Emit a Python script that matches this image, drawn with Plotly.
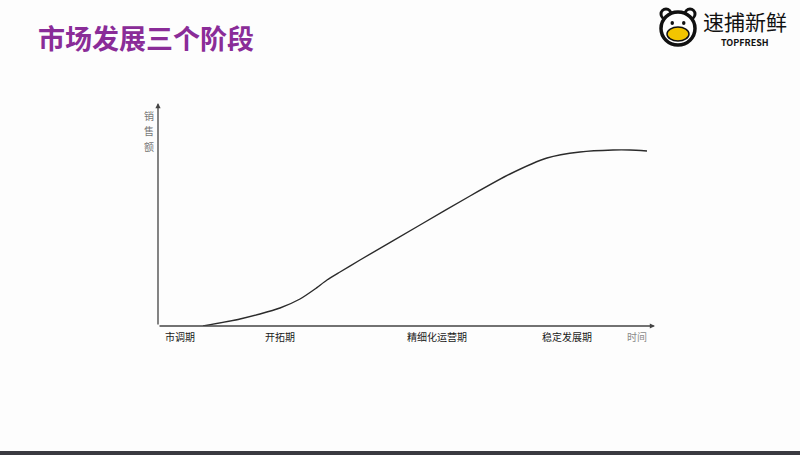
import plotly.graph_objects as go

# Curve (time vs sales), arbitrary units
time_vals = [45, 82, 102, 122, 142, 157, 169, 182, 202, 262, 312, 352, 389, 422, 455, 472, 489]
sales_vals = [0, 7, 12, 18, 27, 37, 46, 54, 66, 101, 130, 152, 168, 174, 176, 176, 175]

# Stage labels along the time axis
stage_pos = [22, 122, 279, 409, 479]
stage_labels = ["市调期", "开拓期", "精细化运营期", "稳定发展期", '<span style="color:#8a8a8a">时间</span>']

title_text = "市场发展三个阶段"
y_label_chars = ["销", "售", "额"]
logo_cn = "速捕新鲜"
logo_en = "TOPFRESH"

X_MAX = 497
Y_MAX = 223
FONT = "Noto Sans CJK SC, Noto Sans, sans-serif"

L, R, T, B = 158, 145, 103, 129
W, H = 800, 455
px_w = W - L - R
px_h = H - T - B


def px(xp, yp):
    return (xp - L) / px_w, (H - B - yp) / px_h


fig = go.Figure()
fig.add_trace(go.Scatter(
    x=time_vals, y=sales_vals, mode="lines",
    line=dict(color="#2b2b2b", width=1.4, shape="spline", smoothing=0.6),
    hoverinfo="skip", showlegend=False,
))

fig.update_layout(
    width=W, height=H,
    margin=dict(l=L, r=R, t=T, b=B),
    paper_bgcolor="#fdfdfd", plot_bgcolor="rgba(0,0,0,0)",
    font=dict(family=FONT),
    showlegend=False,
)
fig.update_xaxes(
    range=[0, X_MAX], showgrid=False, zeroline=False, showline=False,
    tickmode="array", tickvals=stage_pos, ticktext=stage_labels,
    ticks="", ticklabelstandoff=4,
    tickfont=dict(size=10, color="#1a1a1a", family=FONT),
)
fig.update_yaxes(
    range=[0, Y_MAX], showgrid=False, zeroline=False, showline=False,
    showticklabels=False, ticks="",
)

# axis arrows
fig.add_annotation(x=X_MAX, y=0, ax=0, ay=0, xref="x", yref="y", axref="x", ayref="y",
                   showarrow=True, arrowhead=2, arrowsize=0.8, arrowwidth=1.3,
                   arrowcolor="#444", text="")
fig.add_annotation(x=0, y=Y_MAX, ax=0, ay=0, xref="x", yref="y", axref="x", ayref="y",
                   showarrow=True, arrowhead=2, arrowsize=0.8, arrowwidth=1.3,
                   arrowcolor="#444", text="")

# y axis label, one character per line
for i, ch in enumerate(y_label_chars):
    a, b = px(149, 115 + 15.5 * i)
    fig.add_annotation(x=a, y=b, xref="paper", yref="paper", text=ch,
                       showarrow=False, font=dict(size=10, color="#777", family=FONT),
                       xanchor="center", yanchor="middle")

# title
a, b = px(36, 37)
fig.add_annotation(x=a, y=b, xref="paper", yref="paper", text="<b>" + title_text + "</b>",
                   showarrow=False, xanchor="left", yanchor="middle",
                   font=dict(size=27, color="#8a2c98", family=FONT))

# logo text
a, b = px(745, 21)
fig.add_annotation(x=a, y=b, xref="paper", yref="paper", text=logo_cn, showarrow=False,
                   font=dict(size=21, color="#111", family=FONT), xanchor="center", yanchor="middle")
a, b = px(745, 42)
fig.add_annotation(x=a, y=b, xref="paper", yref="paper", text="<b>" + logo_en + "</b>", showarrow=False,
                   font=dict(size=9, color="#111", family=FONT), xanchor="center", yanchor="middle")


def circ(x0p, y0p, x1p, y1p, fill, lc="#111", lw=0):
    x0, y0 = px(x0p, y1p)
    x1, y1 = px(x1p, y0p)
    fig.add_shape(type="circle", xref="paper", yref="paper", x0=x0, y0=y0, x1=x1, y1=y1,
                  line=dict(color=lc, width=lw), fillcolor=fill)


# bear icon
circ(661, 9, 671, 19, "#fff", lw=3)
circ(685, 9, 695, 19, "#fff", lw=3)
circ(661, 12, 695, 45, "#fff", lw=3.5)
circ(667, 27, 689, 41, "#f2c500", lw=1.5)
circ(670.5, 21, 674, 25, "#111")
circ(682, 21, 685.5, 25, "#111")

# bottom dark strip
x0, y0 = px(0, 455)
x1, y1 = px(800, 451)
fig.add_shape(type="rect", xref="paper", yref="paper", x0=x0, x1=x1, y0=y0, y1=y1,
              line=dict(width=0), fillcolor="#3a3a40")

fig.write_html("out.html", config={"displayModeBar": False},
               post_script="document.body.style.margin='0';")
